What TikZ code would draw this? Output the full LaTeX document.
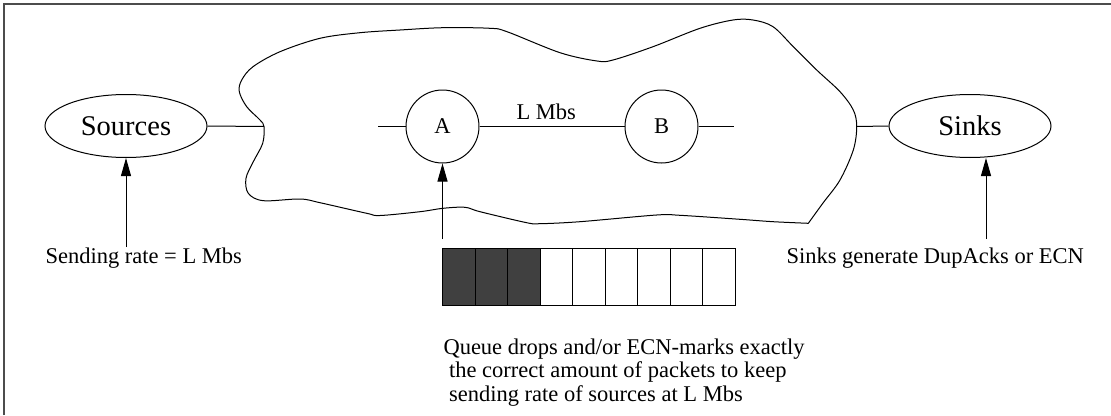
\documentclass[tikz,border=0pt]{standalone}
\usepackage{fontspec}
\setmainfont{Liberation Serif}
\usetikzlibrary{arrows.meta,shapes.geometric}
\begin{document}
\begin{tikzpicture}[x=1pt,y=-1pt,line width=1pt,
  endpoint/.style={draw, ellipse, minimum width=162pt, minimum height=63pt, inner sep=0pt, font=\fontsize{28.5}{30}\selectfont},
  router/.style={draw, circle, minimum size=73pt, inner sep=0pt, font=\fontsize{22.5}{24}\selectfont},
  lbl/.style={font=\fontsize{22.5}{23.8}\selectfont, inner sep=0pt},
  pointer/.style={-{Triangle[length=18pt,width=10pt]}},
  cell/.style={draw, minimum width=32.56pt, minimum height=57pt, inner sep=0pt, anchor=north west},
  full/.style={cell, fill=black!75},
  frameline/.style={line width=1.5pt, black!70}]
\useasboundingbox (0,0) rectangle (1111,415);
\draw[frameline] (4,415) -- (4,4) -- (1111,4);

% cloud
\draw plot[smooth, tension=0.55] coordinates {
 (808.3,223.3) (823,203) (840,180) (853.3,150) (856.7,126.7) (853.3,110) (840,91.7)
 (816.7,70) (793.3,46.7) (773,26.7) (753,20) (733,20) (700,28.3) (653,46.7) (613,60)
 (597,61) (560,52.7) (507,31.7) (490,28.3) (443,27.7) (400,30) (360,32.7) (320,38.3)
 (280,51.7) (253,66.7) (241.7,80) (239.3,91.7) (246.7,106.7) (260,120) (264,126.7)
 (262.7,143.3) (253.3,161.7) (246,178.3) (248.3,193.3) (263.3,200.7) (300,199)
 (320,202.7) (366.7,213.3) (380,215.5) (420,211.7) (443,208.3) (465,207.3) (480,211.7)
 (526.7,222.7) (540,223.7) (580,221.7) (656.7,215) (680,215.3) (740,219.3) (773,221.7)
 (808.3,223.3)};

\node[endpoint] (src) at (126,126) {Sources};
\node[endpoint] (snk) at (970,126) {Sinks};
\node[router] (A) at (442.5,126.5) {A};
\node[router] (B) at (661.5,126.5) {B};

\coordinate (cloudL) at (264,126.5);
\coordinate (cloudR) at (857,126.5);
\coordinate (stubL) at (378,126.5);
\coordinate (stubR) at (734,126.5);
\draw (src.east) -- (cloudL);
\draw (cloudR) -- (snk.west);
\draw (stubL) -- (A.west);
\draw (A.east) -- (B.west);
\draw (B.east) -- (stubR);
\node[lbl, anchor=base west] (lmbs) at (516,119) {L Mbs};

% queue
\foreach \i in {0,1,2} \node[full] (q\i) at ({442+\i*32.56},248) {};
\foreach \i in {3,...,8} \node[cell] (q\i) at ({442+\i*32.56},248) {};

% arrows
\coordinate (srcfoot) at (126,247);
\coordinate (qfoot) at (442.5,239);
\coordinate (snkfoot) at (986,239);
\draw[pointer] (srcfoot) -- (src.south);
\draw[pointer] (qfoot) -- (A.south);
\draw[pointer] (snkfoot) -- (snkfoot |- snk.south);

% labels
\node[lbl, anchor=base west] (srclbl) at (45,263) {Sending rate = L Mbs};
\node[lbl, anchor=base west] (snklbl) at (786,263) {Sinks generate DupAcks or ECN};
\node[lbl, anchor=base west, align=left] (qlbl) at (443,401.7)
  {Queue drops and/or ECN-marks exactly\\\ the correct amount of packets to keep\\\ sending rate of sources at L Mbs};
\end{tikzpicture}
\end{document}
